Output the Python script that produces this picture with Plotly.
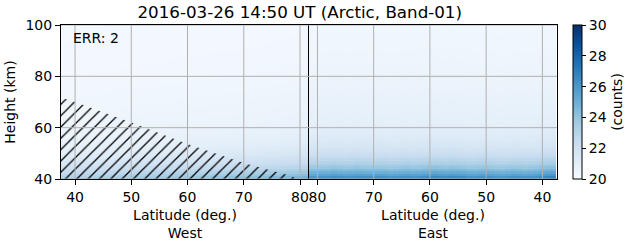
import plotly.graph_objects as go
import plotly.colors as pc

# ---- data ----
heights = [40.5 + i for i in range(60)]  # cell centres, km
# excess counts above 20 for a reference column, from 40 km up to 100 km
profile = [6.2, 5.6, 5.0, 4.4, 3.9, 3.5, 3.1, 2.8, 2.5, 2.25,
           2.05, 1.85, 1.7, 1.55, 1.45, 1.35, 1.25, 1.15, 1.1, 1.05,
           1.0, 0.95, 0.9, 0.88, 0.85, 0.82, 0.8, 0.78, 0.76, 0.74,
           0.72, 0.7, 0.68, 0.66, 0.64, 0.62, 0.6, 0.58, 0.56, 0.55,
           0.54, 0.52, 0.5, 0.49, 0.48, 0.47, 0.46, 0.45, 0.44, 0.43,
           0.42, 0.41, 0.4, 0.39, 0.38, 0.37, 0.36, 0.35, 0.34, 0.33]

lat_west = [38 + i for i in range(44)]
west_factor = [0.50, 0.50, 0.51, 0.51, 0.52, 0.52, 0.53, 0.53, 0.54, 0.54,
               0.55, 0.55, 0.56, 0.56, 0.57, 0.57, 0.58, 0.58, 0.59, 0.59,
               0.60, 0.60, 0.61, 0.61, 0.62, 0.62, 0.63, 0.63, 0.64, 0.64,
               0.65, 0.65, 0.66, 0.66, 0.67, 0.68, 0.69, 0.70, 0.71, 0.72,
               0.73, 0.74, 0.75, 0.76]

lat_east = [38 + i for i in range(44)]
east_factor = [1.08, 1.06, 1.04, 1.00, 0.98, 0.97, 0.99, 1.00, 0.98, 0.96,
               0.97, 0.99, 1.01, 1.00, 0.98, 0.99, 1.02, 1.03, 1.04, 1.02,
               1.03, 1.05, 1.04, 1.02, 1.00, 0.99, 1.01, 1.00, 0.98, 0.97,
               0.99, 1.00, 0.98, 0.99, 1.00, 1.01, 0.99, 0.98, 1.00, 1.01,
               0.99, 0.98, 0.97, 0.96]

# hatched (invalid) region, west side
hatch_lat = [37.5, 40, 50, 60, 70, 78, 79.6, 37.5]
hatch_h = [71.8, 70.0, 62.0, 53.6, 46.2, 41.5, 40.0, 40.0]

lat_ticks = [40, 50, 60, 70, 80]
height_ticks = [40, 60, 80, 100]
cbar_ticks = [20, 22, 24, 26, 28, 30]

title = "2016-03-26 14:50 UT (Arctic, Band-01)"

# ---- tables ----
z_west = [[20 + p * f for f in west_factor] for p in profile]
z_east = [[20 + p * f for f in east_factor] for p in profile]

blues = pc.sequential.Blues
cs = [[i / (len(blues) - 1), c] for i, c in enumerate(blues)]

fig = go.Figure()
fig.add_trace(go.Heatmap(x=lat_west, y=heights, z=z_west, colorscale=cs,
                         zmin=20, zmax=30, xaxis="x", yaxis="y", showscale=False))
fig.add_trace(go.Heatmap(x=lat_east, y=heights, z=z_east, colorscale=cs,
                         zmin=20, zmax=30, xaxis="x2", yaxis="y2",
                         colorbar=dict(x=1.032, xanchor="left", xref="paper", xpad=0,
                                       y=0.5, len=1, lenmode="fraction", ypad=0,
                                       thickness=9, outlinecolor="black", outlinewidth=1,
                                       tickvals=cbar_ticks, ticks="outside",
                                       ticklen=4, tickcolor="black",
                                       tickfont=dict(size=14, color="black"),
                                       title=dict(text="(counts)", side="right",
                                                  font=dict(size=14, color="black")))))
fig.add_trace(go.Scatter(x=hatch_lat, y=hatch_h, fill="toself", mode="lines",
                         line=dict(width=0, color="black"),
                         fillcolor="rgba(0,0,0,0)",
                         fillpattern=dict(shape="/", fgcolor="black", fgopacity=1,
                                          bgcolor="rgba(0,0,0,0)",
                                          size=8, solidity=0.16, fillmode="overlay"),
                         xaxis="x", yaxis="y", showlegend=False, hoverinfo="skip"))

# grid lines drawn above the heatmap (as in the reference)
shapes = []
for v in lat_ticks:
    for xr in ("x", "x2"):
        shapes.append(dict(type="line", xref=xr, yref="y domain", x0=v, x1=v, y0=0, y1=1,
                           line=dict(color="#b0b0b0", width=1), layer="above"))
for v in height_ticks:
    for xr in ("x domain", "x2 domain"):
        shapes.append(dict(type="line", xref=xr, yref="y", x0=0, x1=1, y0=v, y1=v,
                           line=dict(color="#b0b0b0", width=1), layer="above"))

axis_common = dict(showline=True, mirror=True, linecolor="black", linewidth=1,
                   showgrid=False, tickfont=dict(size=14, color="black"), zeroline=False,
                   layer="above traces")

fig.update_layout(
    width=631, height=243,
    margin=dict(l=61, r=74, t=25, b=64, autoexpand=False),
    plot_bgcolor="white", paper_bgcolor="white",
    font=dict(family="DejaVu Sans", color="black", size=14),
    title=dict(text=title, x=0.475, xanchor="center", y=0.95, yanchor="middle",
               font=dict(size=16.7, color="black")),
    showlegend=False,
    shapes=shapes,
    xaxis=dict(domain=[0, 0.5], range=[37.5, 81.6], tickvals=lat_ticks,
               ticks="outside", ticklen=5, tickcolor="black", anchor="y",
               title=dict(text="Latitude (deg.)<br>West", font=dict(size=14), standoff=6),
               **axis_common),
    xaxis2=dict(domain=[0.5, 1], range=[81.5, 37.4], tickvals=lat_ticks,
                ticks="outside", ticklen=5, tickcolor="black", anchor="y2",
                title=dict(text="Latitude (deg.)<br>East", font=dict(size=14), standoff=6),
                **axis_common),
    yaxis=dict(range=[40, 100], tickvals=height_ticks, ticks="outside", ticklen=5,
               tickcolor="black", anchor="x",
               title=dict(text="Height (km)", font=dict(size=14), standoff=6),
               **axis_common),
    yaxis2=dict(range=[40, 100], tickvals=height_ticks, showticklabels=False,
                ticks="", anchor="x2", matches="y", **axis_common),
    annotations=[dict(text="ERR: 2", xref="paper", yref="paper", x=0.02, y=0.915,
                      xanchor="left", yanchor="middle", showarrow=False,
                      font=dict(size=14, color="black"))],
)

fig.write_html("out.html")
